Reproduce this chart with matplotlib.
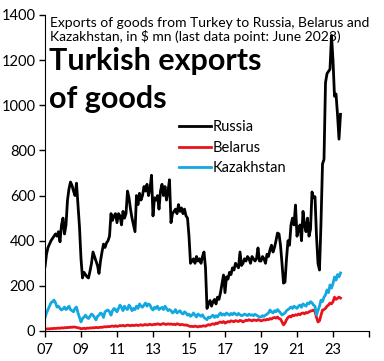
import matplotlib.pyplot as plt
import numpy as np

# monthly exports, $ mn, Jan 2007 - Jun 2023
russia = [
    285, 340, 370, 385, 400, 410, 420, 430, 420, 440, 395, 470,   # 2007
    500, 430, 470, 580, 630, 660, 645, 620, 600, 655, 560, 460,   # 2008
    320, 235, 260, 250, 240, 235, 265, 300, 350, 330, 310, 290,   # 2009
    255, 310, 350, 385, 370, 390, 400, 420, 520, 490, 510, 520,   # 2010
    480, 520, 510, 470, 530, 500, 520, 620, 590, 540, 500, 470,   # 2011
    440, 600, 560, 610, 580, 600, 640, 620, 650, 600, 630, 690,   # 2012
    510, 590, 580, 600, 540, 620, 650, 600, 640, 580, 620, 670,   # 2013
    480, 520, 530, 540, 520, 560, 530, 545, 520, 540, 510, 500,   # 2014
    420, 300, 310, 320, 300, 330, 310, 320, 300, 330, 350, 280,   # 2015
    100, 120, 135, 110, 130, 140, 120, 150, 140, 170, 210, 248,   # 2016
    170, 240, 230, 260, 250, 280, 270, 300, 290, 280, 350, 290,   # 2017
    300, 320, 310, 330, 320, 300, 330, 320, 310, 320, 368, 310,   # 2018
    310, 330, 320, 300, 340, 330, 360, 380, 350, 370, 400, 434,   # 2019
    430, 380, 300, 212, 217, 320, 400, 380, 470, 500, 470, 558,   # 2020
    420, 450, 470, 400, 530, 470, 440, 500, 420, 450, 616, 590,   # 2021
    595, 420, 300, 270, 480, 740, 760, 1100, 1140, 1150, 1160, 1310,  # 2022
    1200, 1040, 1050, 960, 850, 960,                               # 2023
]
belarus = [
    8, 9, 10, 9, 11, 10, 12, 11, 12, 13, 12, 14,
    13, 15, 14, 16, 15, 17, 16, 18, 17, 16, 14, 13,
    10, 11, 12, 10, 13, 12, 14, 13, 15, 14, 16, 15,
    15, 17, 16, 18, 19, 18, 20, 19, 21, 22, 20, 23,
    20, 22, 24, 23, 25, 22, 24, 26, 25, 23, 26, 24,
    25, 27, 24, 26, 28, 25, 27, 29, 26, 28, 30, 27,
    28, 30, 29, 32, 30, 28, 31, 33, 30, 29, 32, 30,
    31, 29, 30, 28, 32, 30, 27, 29, 28, 26, 27, 25,
    22, 20, 21, 19, 22, 20, 18, 21, 20, 22, 23, 21,
    25, 28, 26, 30, 32, 29, 35, 33, 38, 40, 37, 42,
    35, 38, 42, 40, 45, 43, 41, 46, 44, 42, 47, 45,
    40, 44, 48, 46, 50, 47, 45, 49, 48, 46, 50, 48,
    45, 47, 50, 48, 52, 50, 55, 53, 58, 60, 57, 62,
    55, 53, 40, 27, 35, 50, 60, 65, 62, 70, 68, 72,
    70, 75, 72, 78, 80, 76, 82, 80, 85, 88, 90, 93,
    85, 60, 40, 45, 70, 93, 95, 100, 110, 115, 124, 120,
    130, 150, 140, 145, 150, 146,
]
kazakhstan = [
    58, 80, 95, 110, 125, 130, 137, 125, 106, 110, 100, 93,
    98, 106, 95, 100, 110, 95, 90, 85, 100, 106, 80, 60,
    40, 55, 62, 70, 60, 55, 65, 75, 70, 60, 49, 65,
    70, 80, 75, 60, 85, 90, 93, 85, 70, 90, 100, 95,
    85, 100, 115, 105, 90, 110, 100, 95, 115, 105, 90, 100,
    95, 110, 100, 120, 110, 105, 115, 124, 110, 120, 115, 100,
    93, 105, 100, 110, 95, 100, 105, 95, 110, 100, 90, 95,
    90, 80, 85, 95, 80, 85, 90, 80, 75, 85, 80, 70,
    75, 65, 70, 80, 70, 62, 75, 70, 65, 72, 60, 55,
    50, 62, 58, 65, 70, 60, 68, 62, 72, 80, 70, 75,
    70, 80, 75, 70, 78, 72, 80, 75, 70, 78, 72, 68,
    70, 75, 72, 68, 75, 70, 72, 68, 74, 70, 66, 62,
    62, 68, 65, 70, 75, 80, 93, 85, 80, 90, 85, 95,
    88, 80, 71, 75, 80, 90, 95, 100, 106, 100, 110, 105,
    100, 110, 115, 105, 120, 115, 110, 124, 120, 130, 125, 115,
    110, 71, 90, 110, 137, 130, 150, 160, 182, 170, 204, 190,
    210, 239, 225, 250, 240, 257,
]
series_names = ["Russia", "Belarus", "Kazakhstan"]
series_colors = ["black", "#e8141c", "#14a8e0"]
tick_years = list(range(2007, 2026, 2))
tick_labels = ["07", "09", "11", "13", "15", "17", "19", "21", "23", ""]

t = 2007 + np.arange(len(russia)) / 12.0

plt.rcParams['font.family'] = ['Lato', 'DejaVu Sans']

fig = plt.figure(figsize=(3.84, 3.61), dpi=100)
ax = fig.add_axes([45 / 384, 30 / 361, 324 / 384, 316 / 361])

for vals, name, col in zip([russia, belarus, kazakhstan], series_names, series_colors):
    ax.plot(t, vals, color=col, lw=2.0, label=name, solid_joinstyle="round")

ax.set_xlim(2007, 2025)
ax.set_ylim(0, 1400)
ax.set_xticks(tick_years)
ax.set_xticklabels(tick_labels)
ax.set_yticks(range(0, 1401, 200))
ax.tick_params(axis="both", direction="out", length=4, width=1, labelsize=10.5, pad=3)
ax.tick_params(axis="x", pad=5)
for s in ["top", "right"]:
    ax.spines[s].set_visible(False)

ax.text(0.015, 0.995, "Exports of goods from Turkey to Russia, Belarus and\nKazakhstan, in $ mn (last data point: June 2023)",
        transform=ax.transAxes, ha="left", va="top", fontsize=10, linespacing=1.15)
ax.text(0.012, 0.9, "Turkish exports\nof goods", transform=ax.transAxes, ha="left", va="top",
        fontsize=22, fontweight="bold", linespacing=1.45)

ax.legend(loc="upper left", bbox_to_anchor=(0.39, 0.69), frameon=False, fontsize=10.5,
          handlelength=2.2, handletextpad=0.1, labelspacing=0.45, borderpad=0)

fig.savefig("out.png", dpi=100)
